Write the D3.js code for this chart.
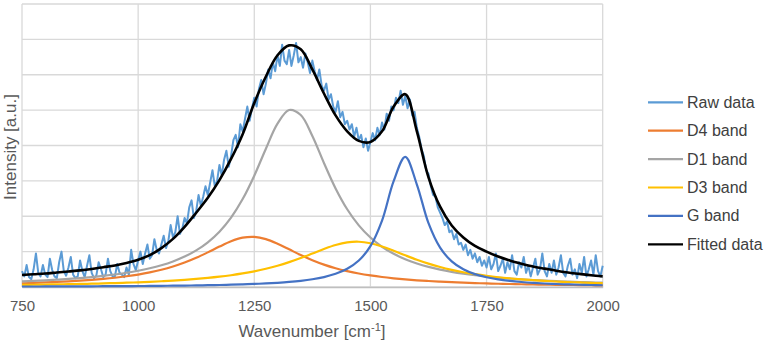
<!DOCTYPE html>
<html><head><meta charset="utf-8">
<script src="https://cdn.jsdelivr.net/npm/d3@7"></script>
<style>body{margin:0;background:#fff;} svg{display:block;font-family:"Liberation Sans",Arial,sans-serif;}</style>
</head><body><svg id="c" width="765" height="343"></svg>
<script>
const bandX = d3.range(0,51).map(i=>750+25*i); // wavenumber grid of smooth curves (25 cm-1 apart)
const d4Band = [0.106,0.116,0.128,0.143,0.159,0.179,0.202,0.229,0.262,0.303,0.352,0.412,0.486,0.578,0.690,0.824,0.979,1.142,1.292,1.394,1.417,1.354,1.224,1.064,0.903,0.757,0.633,0.531,0.449,0.381,0.327,0.282,0.246,0.215,0.190,0.169,0.151,0.136,0.122,0.111,0.101,0.092,0.085,0.078,0.072,0.067,0.062,0.058,0.054,0.050,0.047];
const d1Band = [0.159,0.173,0.189,0.207,0.228,0.253,0.281,0.315,0.354,0.402,0.459,0.529,0.615,0.723,0.860,1.035,1.264,1.565,1.963,2.486,3.147,3.909,4.617,5.004,4.861,4.270,3.506,2.787,2.198,1.742,1.398,1.137,0.938,0.784,0.664,0.568,0.491,0.428,0.376,0.333,0.297,0.266,0.240,0.217,0.197,0.180,0.165,0.152,0.140,0.130,0.121];
const d3Band = [0.060,0.064,0.069,0.074,0.080,0.086,0.093,0.102,0.111,0.121,0.133,0.147,0.162,0.180,0.202,0.227,0.256,0.291,0.333,0.383,0.443,0.515,0.601,0.703,0.819,0.946,1.074,1.186,1.260,1.279,1.236,1.145,1.024,0.895,0.771,0.660,0.565,0.485,0.417,0.362,0.315,0.276,0.244,0.216,0.193,0.173,0.156,0.141,0.128,0.117,0.107];
const gBand = [0.014,0.014,0.015,0.016,0.018,0.019,0.020,0.022,0.024,0.026,0.028,0.030,0.033,0.037,0.041,0.045,0.051,0.057,0.065,0.074,0.086,0.100,0.119,0.143,0.175,0.219,0.281,0.373,0.515,0.748,1.154,1.877,2.991,3.679,2.897,1.804,1.112,0.724,0.501,0.364,0.275,0.214,0.172,0.141,0.117,0.099,0.085,0.073,0.064,0.056,0.050];
const fitted = [0.34,0.36,0.38,0.41,0.44,0.47,0.51,0.56,0.61,0.68,0.77,0.90,1.10,1.36,1.70,2.10,2.52,3.02,3.62,4.32,5.20,5.95,6.55,6.83,6.72,6.15,5.47,4.85,4.40,4.13,4.10,4.40,5.10,5.45,4.40,3.10,2.27,1.74,1.40,1.16,1.00,0.86,0.75,0.66,0.58,0.52,0.46,0.41,0.37,0.33,0.30];
const rawX = d3.range(0,251).map(i=>750+5*i); // raw spectrum, 5 cm-1 apart
const rawData = [
0.45,0.30,0.62,0.28,0.22,0.50,0.95,0.40,0.30,0.62,
0.35,0.28,0.80,0.48,0.30,0.25,0.70,1.00,0.45,0.32,
0.55,0.85,0.35,0.25,0.30,0.75,0.45,0.28,0.60,0.90,
0.40,0.25,0.32,0.70,0.50,0.28,0.35,0.80,0.45,0.30,
0.30,0.65,0.40,0.35,0.28,0.55,0.35,1.05,0.65,0.48,
0.75,1.00,0.65,0.95,1.20,0.80,0.90,1.35,1.05,0.95,
1.20,1.45,1.10,1.30,1.75,1.40,1.55,2.00,1.50,1.65,
1.95,1.80,2.25,2.45,1.95,2.15,2.60,2.30,2.55,2.85,
2.60,2.95,3.30,2.85,3.00,3.45,3.15,3.60,3.85,3.40,
3.70,4.15,4.30,3.95,4.60,4.40,4.75,5.10,4.70,5.05,
5.35,5.10,5.60,5.85,5.45,5.75,6.15,5.90,6.35,6.10,
6.55,6.25,6.85,6.40,6.30,6.70,6.25,6.55,6.90,6.35,
6.50,6.20,6.60,6.35,6.05,6.40,6.10,5.85,6.15,5.70,
5.55,5.75,5.30,5.45,5.10,4.95,5.25,4.80,4.95,4.60,
4.70,4.45,4.60,4.25,4.50,4.15,4.30,3.95,4.20,3.85,
4.10,4.35,4.15,4.50,4.30,4.65,4.45,4.90,4.70,5.10,
5.00,5.35,5.20,5.55,5.15,5.40,5.05,5.30,4.85,4.95,
4.50,4.25,3.90,3.70,3.30,3.20,2.85,2.60,2.55,2.25,
2.10,1.95,1.75,1.85,1.55,1.60,1.35,1.50,1.20,1.25,
1.05,1.20,0.90,1.05,0.80,0.95,0.70,0.85,0.60,0.75,
0.55,0.85,0.50,0.65,0.95,0.45,0.60,0.80,0.40,0.70,
0.50,0.90,0.45,0.35,0.70,0.55,0.85,0.40,0.60,0.30,
0.55,0.80,0.35,0.50,0.95,0.45,0.30,0.65,0.40,0.75,
0.35,0.55,0.90,0.40,0.30,0.60,0.80,0.35,0.50,0.25,
0.65,0.40,0.85,0.30,0.50,0.75,0.35,0.90,0.45,0.30,
0.60];
const xTicks = [750,1000,1250,1500,1750,2000];
const yGrid = [0,1,2,3,4,5,6,7,8];
const seriesNames = ["Raw data","D4 band","D1 band","D3 band","G band","Fitted data"];
const seriesColors = ["#5B9BD5","#ED7D31","#A5A5A5","#FFC000","#4472C4","#000000"];

const svg = d3.select("#c");
const x = d3.scaleLinear().domain([750,2000]).range([22,602.7]);
const y = d3.scaleLinear().domain([0,8]).range([287,4]);

const g = svg.append("g");
g.selectAll("line.h").data(yGrid).enter().append("line")
  .attr("x1",x(750)).attr("x2",x(2000)).attr("y1",d=>y(d)).attr("y2",d=>y(d))
  .attr("stroke","#D9D9D9").attr("stroke-width",1.3);
g.selectAll("line.v").data(xTicks).enter().append("line")
  .attr("y1",y(0)).attr("y2",y(8)).attr("x1",d=>x(d)).attr("x2",d=>x(d))
  .attr("stroke","#D9D9D9").attr("stroke-width",1.3);

const xAxis = d3.axisBottom(x).tickValues(xTicks).tickSize(0).tickPadding(13).tickFormat(d3.format("d"));
const ax = svg.append("g").attr("transform",`translate(0,${y(0)})`).call(xAxis);
ax.select(".domain").attr("stroke","#BFBFBF").attr("stroke-width",1.3);
ax.selectAll("text").attr("fill","#595959").attr("font-size",15).attr("font-family","Liberation Sans, Arial, sans-serif");

const rawLine = d3.line().x((d,i)=>x(rawX[i])).y(d=>y(d));
svg.append("path").datum(rawData).attr("d",rawLine).attr("fill","none")
  .attr("stroke",seriesColors[0]).attr("stroke-width",2).attr("stroke-linejoin","round");

const bandLine = d3.line().x((d,i)=>x(bandX[i])).y(d=>y(d)).curve(d3.curveCatmullRom.alpha(0.5));
[d4Band,d1Band,d3Band,gBand,fitted].forEach((arr,k)=>{
  svg.append("path").datum(arr).attr("d",bandLine).attr("fill","none")
    .attr("stroke",seriesColors[k+1]).attr("stroke-width",k===4?2.6:2.2);
});

svg.append("text").attr("x",312).attr("y",337).attr("text-anchor","middle")
  .attr("fill","#595959").attr("font-size",17)
  .html('Wavenumber [cm<tspan dy="-6" font-size="11">-1</tspan><tspan dy="6">]</tspan>');
svg.append("text").attr("transform","translate(16,147) rotate(-90)").attr("text-anchor","middle")
  .attr("fill","#595959").attr("font-size",17).text("Intensity [a.u.]");

const leg = svg.append("g");
seriesNames.forEach((n,i)=>{
  const yy = 102.3 + i*28.4;
  leg.append("line").attr("x1",648).attr("x2",683).attr("y1",yy).attr("y2",yy)
    .attr("stroke",seriesColors[i]).attr("stroke-width",2.2);
  leg.append("text").attr("x",687).attr("y",yy+5.5).attr("fill","#404040").attr("font-size",16).text(n);
});
</script></body></html>
